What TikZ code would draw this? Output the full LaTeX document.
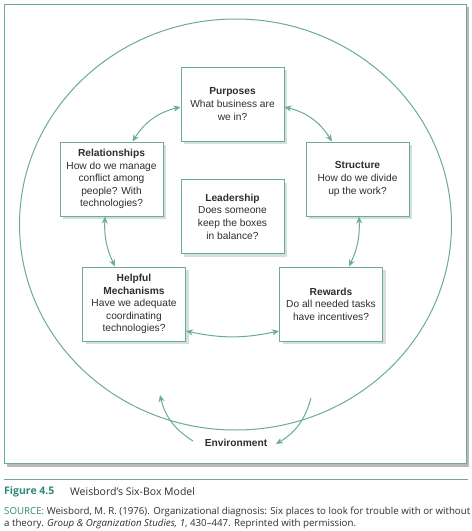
\documentclass[tikz,border=0pt]{standalone}
\usepackage{fontspec}
\setmainfont{Liberation Sans}
\newfontfamily\capfont{Open Sans}
\usetikzlibrary{arrows.meta,calc}
\definecolor{teal1}{HTML}{6BAA9C}
\definecolor{tealdark}{HTML}{2E8A78}
\definecolor{shadowc}{HTML}{D3DFDB}
\definecolor{txt}{HTML}{2E2E2E}
\tikzset{
  box/.style={draw=teal1, line width=1pt, fill=white, minimum width=103pt, minimum height=74pt,
    align=center, inner sep=2pt, text=txt, font=\fontsize{10.2}{12.6}\selectfont},
  shbox/.style={fill=shadowc, minimum width=103pt, minimum height=74pt, inner sep=0pt},
  conn/.style={draw=teal1, line width=1pt, {Stealth[length=7pt,width=6pt]}-{Stealth[length=7pt,width=6pt]}},
  sconn/.style={draw=teal1, line width=1pt, -{Stealth[length=7pt,width=6pt]}},
}
\begin{document}
\begin{tikzpicture}[x=1pt,y=-1pt]
\useasboundingbox (0,0) rectangle (472,531);
% outer frame with shadow
\fill[gray!55] (7,7) rectangle (469,467);
\draw[teal1, line width=1pt, fill=white] (4,4) rectangle (466,463);
% environment ellipse
\draw[teal1, line width=1pt] (235.5,224.5) ellipse [x radius=216, y radius=205.5];
% shadows
\foreach \x/\y in {232.5/104, 111.5/179, 357.5/179, 232.5/216.5, 134/304, 331/304}
  \node[shbox] at (\x+3,\y+3) {};
% boxes
\node[box] (pur) at (232.5,104) {\textbf{Purposes}\\What business are\\we in?};
\node[box] (rel) at (111.5,179) {\textbf{Relationships}\\How do we manage\\conflict among\\people? With\\technologies?};
\node[box] (str) at (357.5,179) {\textbf{Structure}\\How do we divide\\up the work?};
\node[box] (lead) at (232.5,216.5) {\textbf{Leadership}\\Does someone\\keep the boxes\\in balance?};
\node[box] (help) at (134,304) {\textbf{Helpful}\\\textbf{Mechanisms}\\Have we adequate\\coordinating\\technologies?};
\node[box] (rew) at (331,304) {\textbf{Rewards}\\Do all needed tasks\\have incentives?};
% connectors
\draw[conn] ([yshift=-3pt]pur.west) to[bend right=22] ([xshift=21pt]rel.north);
\draw[conn] ([yshift=-3pt]pur.east) to[bend left=22] ([xshift=-25.5pt]str.north);
\draw[conn] ([xshift=-6.5pt]rel.south) to[bend right=14] ([xshift=-19pt]help.north);
\draw[conn] ([xshift=1.5pt]str.south) to[bend left=14] ([xshift=18pt]rew.north);
\draw[conn] ([yshift=-27pt]help.east) to[bend right=12] ([yshift=-27pt]rew.west);
% environment
\node[text=txt, font=\bfseries\fontsize{10.2}{12}\selectfont] (env) at (236,443) {Environment};
\coordinate (l0) at (193,441);
\coordinate (l1) at (160,395);
\coordinate (r0) at (311,398);
\coordinate (r1) at (276,444);
\draw[sconn] (l0) to[bend left=22] (l1);
\draw[sconn] (r0) to[bend left=22] (r1);
% caption
\draw[teal1, line width=0.8pt] (4,479) -- (468,479);
\node[anchor=west, inner sep=0pt, font=\capfont\bfseries\fontsize{10.5}{12}\selectfont, text=tealdark] (fig) at (4,492) {Figure 4.5};
\node[anchor=west, inner sep=0pt, font=\capfont\fontsize{10.5}{12}\selectfont, text=txt] (title) at (70,492) {Weisbord’s Six-Box Model};
\node[anchor=west, inner sep=0pt, font=\capfont\fontsize{9.7}{11}\selectfont, text=txt] (src1) at (4,512) {\textcolor{tealdark}{SOURCE:} Weisbord, M. R. (1976). Organizational diagnosis: Six places to look for trouble with or without};
\node[anchor=west, inner sep=0pt, font=\capfont\fontsize{9.7}{11}\selectfont, text=txt] (src2) at (4,524) {a theory. \textit{Group \& Organization Studies, 1}, 430–447. Reprinted with permission.};
\end{tikzpicture}
\end{document}
